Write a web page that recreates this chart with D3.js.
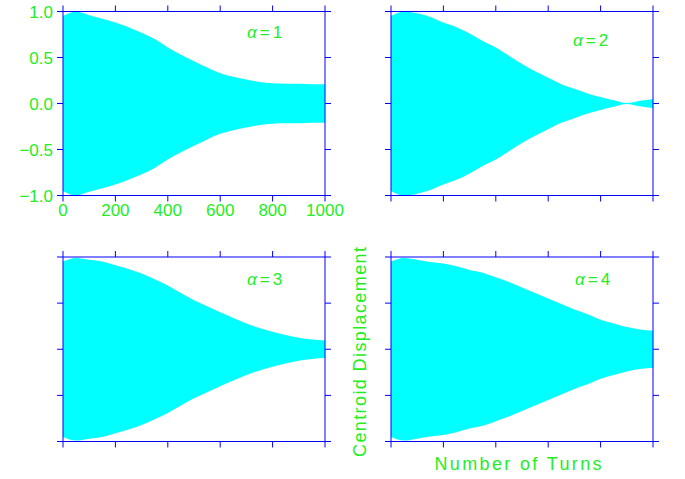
<!DOCTYPE html>
<html>
<head>
<meta charset="utf-8">
<script src="https://cdn.jsdelivr.net/npm/d3@7/dist/d3.min.js"></script>
<style>
  body { margin: 0; background: #fff; }
  svg text { font-family: "Liberation Sans", Arial, sans-serif; fill: #22ee22; }
</style>
</head>
<body>
<div id="chart"></div>
<script>
"use strict";

// turn numbers at which the envelope was read
var turns = [0, 50, 100, 150, 200, 250, 300, 350, 400, 450, 500,
             550, 600, 650, 700, 750, 800, 850, 900, 950, 1000];

// peak amplitude of the centroid oscillation, one list per alpha
var amp1 = [0.95, 1.0, 0.96, 0.92, 0.88, 0.83, 0.77, 0.70, 0.61, 0.53, 0.46,
            0.39, 0.33, 0.29, 0.26, 0.235, 0.22, 0.215, 0.215, 0.21, 0.21];
var amp2 = [0.95, 1.0, 0.98, 0.94, 0.88, 0.83, 0.76, 0.68, 0.61, 0.52, 0.43,
            0.35, 0.28, 0.21, 0.16, 0.11, 0.07, 0.035, 0.005, 0.03, 0.05];
var amp3 = [0.95, 0.99, 0.97, 0.95, 0.91, 0.87, 0.82, 0.76, 0.69, 0.61, 0.53,
            0.465, 0.40, 0.34, 0.28, 0.23, 0.19, 0.155, 0.125, 0.105, 0.095];
var amp4 = [0.95, 0.99, 0.97, 0.945, 0.93, 0.90, 0.86, 0.83, 0.78, 0.73, 0.67,
            0.61, 0.55, 0.49, 0.43, 0.38, 0.32, 0.28, 0.24, 0.215, 0.20];

var alphas = [1, 2, 3, 4];
var xTicks = [0, 200, 400, 600, 800, 1000];
var yTicks = [-1.0, -0.5, 0.0, 0.5, 1.0];

var width = 685, height = 479;
var green = "#22ee22", blue = "#0000ff", cyan = "#00ffff";

var svg = d3.select("#chart").append("svg")
    .attr("width", width)
    .attr("height", height);

// panel frames (left, right, top, bottom) and label spots
var panels = [
    { amp: amp1, alpha: alphas[0], l: 63, r: 325, t: 11.5, b: 195.5, lx: 247, ly: 38, labels: true },
    { amp: amp2, alpha: alphas[1], l: 391, r: 653, t: 11.5, b: 195.5, lx: 573, ly: 46, labels: false },
    { amp: amp3, alpha: alphas[2], l: 63, r: 325, t: 257, b: 441.5, lx: 247, ly: 285, labels: false },
    { amp: amp4, alpha: alphas[3], l: 391, r: 653, t: 257, b: 441.5, lx: 575, ly: 285, labels: false }
];

panels.forEach(function (p, i) {
    var x = d3.scaleLinear().domain([0, 1000]).range([p.l, p.r]);
    var y = d3.scaleLinear().domain([-1, 1]).range([p.b, p.t]);

    // clip the signal to the frame
    svg.append("clipPath")
        .attr("id", "clip" + i)
        .append("rect")
        .attr("x", p.l).attr("y", p.t)
        .attr("width", p.r - p.l).attr("height", p.b - p.t);

    // envelope of the oscillating centroid
    var area = d3.area()
        .x(function (d, j) { return x(turns[j]); })
        .y0(function (d) { return y(-d); })
        .y1(function (d) { return y(d); })
        .curve(d3.curveMonotoneX);

    svg.append("path")
        .datum(p.amp)
        .attr("clip-path", "url(#clip" + i + ")")
        .attr("fill", cyan)
        .attr("d", area);

    // four sides, ticks pointing outward
    var axes = [
        { ax: d3.axisBottom(x).tickValues(xTicks), tr: "translate(0," + p.b + ")" },
        { ax: d3.axisTop(x).tickValues(xTicks), tr: "translate(0," + p.t + ")" },
        { ax: d3.axisLeft(y).tickValues(yTicks), tr: "translate(" + p.l + ",0)" },
        { ax: d3.axisRight(y).tickValues(yTicks), tr: "translate(" + p.r + ",0)" }
    ];
    axes.forEach(function (a) {
        var g = svg.append("g")
            .attr("transform", a.tr)
            .call(a.ax.tickSize(6).tickSizeOuter(0).tickFormat("").offset(0));
        g.selectAll("path, line").attr("stroke", blue).attr("stroke-width", 1);
    });

    // tick labels only on the first panel
    if (p.labels) {
        svg.selectAll(".xl")
            .data(xTicks)
            .enter().append("text")
            .attr("x", function (d) { return x(d); })
            .attr("y", p.b + 20)
            .attr("text-anchor", "middle")
            .style("font-size", "17px")
            .text(function (d) { return d; });

        svg.selectAll(".yl")
            .data(yTicks)
            .enter().append("text")
            .attr("x", 53)
            .attr("y", function (d) { return y(d) + 6; })
            .attr("text-anchor", "end")
            .style("font-size", "17px")
            .text(d3.format(".1f"));
    }

    // alpha label
    var lab = svg.append("text")
        .attr("x", p.lx)
        .attr("y", p.ly)
        .style("font-size", "17px");
    lab.append("tspan").style("font-style", "italic").text("α");
    lab.append("tspan").attr("dx", 3).text("=");
    lab.append("tspan").attr("dx", 3).text(p.alpha);
});

// axis titles
svg.append("text")
    .attr("transform", "translate(366,352) rotate(-90)")
    .attr("text-anchor", "middle")
    .attr("textLength", 210)
    .attr("lengthAdjust", "spacing")
    .style("font-size", "18px")
    .text("Centroid Displacement");

svg.append("text")
    .attr("x", 518)
    .attr("y", 470)
    .attr("text-anchor", "middle")
    .attr("textLength", 167)
    .attr("lengthAdjust", "spacing")
    .style("font-size", "18px")
    .text("Number of Turns");
</script>
</body>
</html>
